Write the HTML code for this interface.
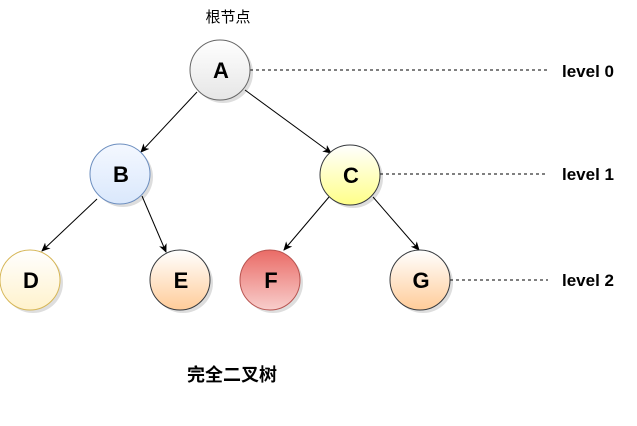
<!DOCTYPE html>
<html><head><meta charset="utf-8"><style>body{margin:0;background:#fff}svg{display:block}</style></head><body>
<svg width="637" height="426" viewBox="0 0 637 426" xmlns="http://www.w3.org/2000/svg" font-family="Liberation Sans, Noto Sans CJK SC, sans-serif">
<defs>
<linearGradient id="gA" x1="0" y1="0" x2="0" y2="1"><stop offset="0" stop-color="#ffffff"/><stop offset="1" stop-color="#e6e6e6"/></linearGradient>
<linearGradient id="gB" x1="0" y1="0" x2="0" y2="1"><stop offset="0" stop-color="#f4f8ff"/><stop offset="1" stop-color="#dae8fc"/></linearGradient>
<linearGradient id="gC" x1="0" y1="0" x2="0" y2="1"><stop offset="0" stop-color="#ffffff"/><stop offset="1" stop-color="#ffff88"/></linearGradient>
<linearGradient id="gD" x1="0" y1="0" x2="0" y2="1"><stop offset="0" stop-color="#ffffff"/><stop offset="1" stop-color="#fff2cc"/></linearGradient>
<linearGradient id="gE" x1="0" y1="0" x2="0" y2="1"><stop offset="0" stop-color="#ffffff"/><stop offset="1" stop-color="#ffcc99"/></linearGradient>
<linearGradient id="gF" x1="0" y1="0" x2="0" y2="1"><stop offset="0" stop-color="#ea6b66"/><stop offset="1" stop-color="#f8cecc"/></linearGradient>
<marker id="ar" markerWidth="10" markerHeight="10" refX="8" refY="5" orient="auto" markerUnits="userSpaceOnUse"><path d="M0,1 L9,5 L0,9 L2.5,5 Z" fill="#000"/></marker>
</defs>
<g fill="#c8c8c8" opacity="0.6">
<circle cx="223" cy="73" r="30"/><circle cx="123" cy="177" r="30"/><circle cx="353" cy="178" r="30"/>
<circle cx="33" cy="283" r="30"/><circle cx="183" cy="283" r="30"/><circle cx="273" cy="283" r="30"/><circle cx="423" cy="283" r="30"/>
</g>
<g stroke="#000" stroke-width="1" marker-end="url(#ar)">
<line x1="197" y1="92" x2="141" y2="152"/>
<line x1="245" y1="90" x2="331" y2="153"/>
<line x1="97" y1="199" x2="42" y2="251"/>
<line x1="142" y1="196" x2="166" y2="252"/>
<line x1="329" y1="197" x2="284" y2="250"/>
<line x1="373" y1="197" x2="419" y2="250"/>
</g>
<g stroke="#000" stroke-width="1" stroke-dasharray="3,3">
<line x1="250" y1="70" x2="548" y2="70"/>
<line x1="380" y1="174" x2="548" y2="174"/>
<line x1="450" y1="280" x2="548" y2="280"/>
</g>
<circle cx="220" cy="70" r="30" fill="url(#gA)" stroke="#666"/>
<circle cx="120" cy="174" r="30" fill="url(#gB)" stroke="#6c8ebf"/>
<circle cx="350" cy="175" r="30" fill="url(#gC)" stroke="#36393d"/>
<circle cx="30" cy="280" r="30" fill="url(#gD)" stroke="#d6b656"/>
<circle cx="180" cy="280" r="30" fill="url(#gE)" stroke="#36393d"/>
<circle cx="270" cy="280" r="30" fill="url(#gF)" stroke="#b85450"/>
<circle cx="420" cy="280" r="30" fill="url(#gE)" stroke="#36393d"/>
<g font-size="22" font-weight="bold" text-anchor="middle" fill="#000">
<text x="221" y="78">A</text><text x="121" y="182">B</text><text x="351" y="183">C</text>
<text x="31" y="288">D</text><text x="181" y="288">E</text><text x="271" y="288">F</text><text x="421" y="288">G</text>
</g>
<g font-size="17" font-weight="bold" fill="#000">
<text x="562" y="77">level 0</text><text x="562" y="180">level 1</text><text x="562" y="286">level 2</text>
</g>
<text x="228" y="22" font-size="15" text-anchor="middle">根节点</text>
<text x="232" y="381" font-size="18" font-weight="bold" text-anchor="middle">完全二叉树</text>
</svg>
</body></html>
